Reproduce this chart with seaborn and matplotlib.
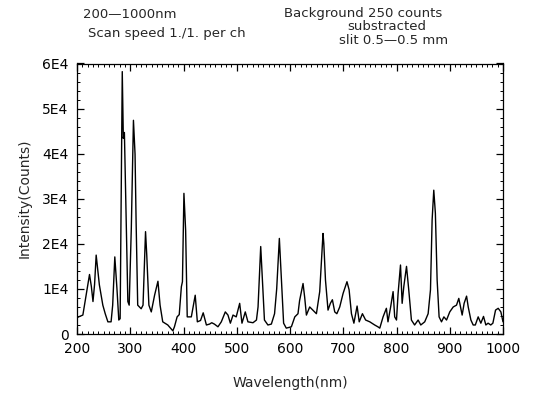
import numpy as np
import pandas as pd
import seaborn as sns
import matplotlib.pyplot as plt
from matplotlib.ticker import MultipleLocator

# spectrum (nm, counts)
wavelength = [
    200, 203, 211, 217, 223.5, 227, 230, 233, 236, 242, 248.5, 253, 258, 264,
    267, 271, 275, 278.5, 281, 283, 285, 287, 289, 292.5, 295.5, 298, 302,
    306, 309, 311, 314, 320.5, 324, 328.7, 331, 335, 339.5, 345.7, 352, 356,
    361, 370.5, 380, 383, 388, 392, 396, 398, 400.8, 404, 407, 414.7, 422,
    426, 432, 437, 443, 449, 453, 458, 464.7, 471, 478.5, 483.5, 488, 493,
    499, 505.5, 509.8, 516, 521, 530.5, 537, 540, 545, 549, 552, 558.5, 565,
    571, 575, 580, 584, 588, 593, 602.6, 609, 615, 618, 624.5, 627.6, 630.8,
    637, 643, 649.6, 655.8, 662, 663.5, 666.6, 671.4, 675.8, 679.6, 684, 688,
    693.4, 699.7, 707, 711, 715.4, 720, 726, 730, 736, 742, 749.8, 759, 765,
    768.6, 774.8, 781, 784, 789, 793.6, 796.6, 800, 803, 807.5, 810.6, 813.7,
    818.8, 823, 828, 834, 840.6, 845.6, 853, 859.4, 863.8, 866.9, 870, 873,
    876.3, 880, 884.5, 889, 894, 900, 906.5, 912.7, 917, 923.3, 927, 931.6,
    934.7, 939.7, 944, 948, 953.4, 958.4, 963.4, 967.8, 972, 977, 981, 986,
    991, 996, 1000,
]
intensity_k = [
    3.6, 3.8, 4.2, 8.5, 13.2, 10.5, 7.2, 11, 17.5, 10.9, 6.4, 4.5, 2.7, 2.7,
    6.4, 17.1, 10.1, 3.1, 3.4, 30, 58.2, 43.4, 44.7, 24.9, 7.2, 6.4, 23.5,
    47.4, 39.9, 24.9, 6.4, 5.6, 6.4, 22.7, 17.5, 6.4, 4.9, 8.6, 11.7, 6.4,
    2.7, 2.0, 0.7, 1.6, 3.8, 4.3, 10.5, 11.6, 31.2, 23, 3.8, 3.8, 8.6,
    2.7, 3.0, 4.7, 2.0, 2.2, 2.5, 2.2, 1.6, 2.7, 4.9, 4.2, 2.4, 4.2,
    3.8, 6.8, 2.4, 4.9, 2.7, 2.5, 3.1, 6.0, 19.4, 9.8, 3.1, 2.0, 2.2,
    4.5, 10, 21.2, 12, 2.4, 1.3, 1.6, 3.8, 4.5, 7.4, 11.2, 8.1, 4.2,
    6.0, 5.3, 4.5, 9.4, 22.3, 20.1, 12, 5.3, 6.8, 7.6, 4.9, 4.5,
    6.0, 9.0, 11.6, 9.8, 4.5, 2.4, 6.2, 2.7, 4.5, 3.1, 2.7, 2.0, 1.6,
    1.3, 3.8, 5.7, 2.7, 6.0, 9.4, 3.8, 3.1, 9.0, 15.3, 6.8, 10.5,
    15.0, 9.8, 3.1, 2.0, 3.1, 2.0, 2.7, 4.5, 9.8, 25.3, 31.9, 26.8,
    12, 3.8, 2.7, 3.8, 3.1, 4.9, 6.0, 6.4, 7.9, 4.2, 6.8, 8.4,
    6.0, 3.1, 2.0, 2.0, 3.8, 2.4, 3.9, 2.0, 2.4, 2.0, 2.4, 5.3,
    5.7, 4.9, 2.7,
]
x_ticks = [200, 300, 400, 500, 600, 700, 800, 900, 1000]
y_ticks = [0, 10000, 20000, 30000, 40000, 50000, 60000]
y_ticklabels = ["0", "1E4", "2E4", "3E4", "4E4", "5E4", "6E4"]

df = pd.DataFrame({
    "wavelength": wavelength,
    "intensity": np.array(intensity_k) * 1000,
})

sns.set_style("ticks")
plt.rcParams["font.family"] = ["DejaVu Sans"]

fig = plt.figure(figsize=(5.42, 4.01), dpi=100)
ax = fig.add_axes([77 / 542, 1 - 334 / 401, 426 / 542, 270.5 / 401])

sns.lineplot(data=df, x="wavelength", y="intensity", color="black",
             linewidth=1.0, ax=ax)

ax.set_xlim(200, 1000)
ax.set_ylim(0, 60000)
ax.set_xticks(x_ticks)
ax.set_yticks(y_ticks)
ax.set_yticklabels(y_ticklabels)
ax.xaxis.set_minor_locator(MultipleLocator(10))
ax.yaxis.set_minor_locator(MultipleLocator(2000))
ax.tick_params(which="both", direction="in", top=True, right=True,
               labelsize=10, color="black", labelcolor="black")
ax.tick_params(which="major", length=5, width=0.9, pad=6)
ax.tick_params(which="minor", length=2.5, width=0.7)
for s in ax.spines.values():
    s.set_linewidth(0.9)
    s.set_color("black")

ax.set_xlabel("Wavelength(nm)", fontsize=10, labelpad=14)
ax.set_ylabel("Intensity(Counts)", fontsize=10, labelpad=8)

# header notes
note = dict(fontsize=9.5, va="center")
fig.text(83 / 542, 1 - 15 / 401, "200—1000nm", **note)
fig.text(88 / 542, 1 - 33 / 401, "Scan speed 1./1. per ch", **note)
fig.text(363 / 542, 1 - 13 / 401, "Background 250 counts", ha="center", **note)
fig.text(387 / 542, 1 - 26.5 / 401, "substracted", ha="center", **note)
fig.text(394 / 542, 1 - 41 / 401, "slit 0.5—0.5 mm", ha="center", **note)

fig.savefig("out.png", dpi=100)
